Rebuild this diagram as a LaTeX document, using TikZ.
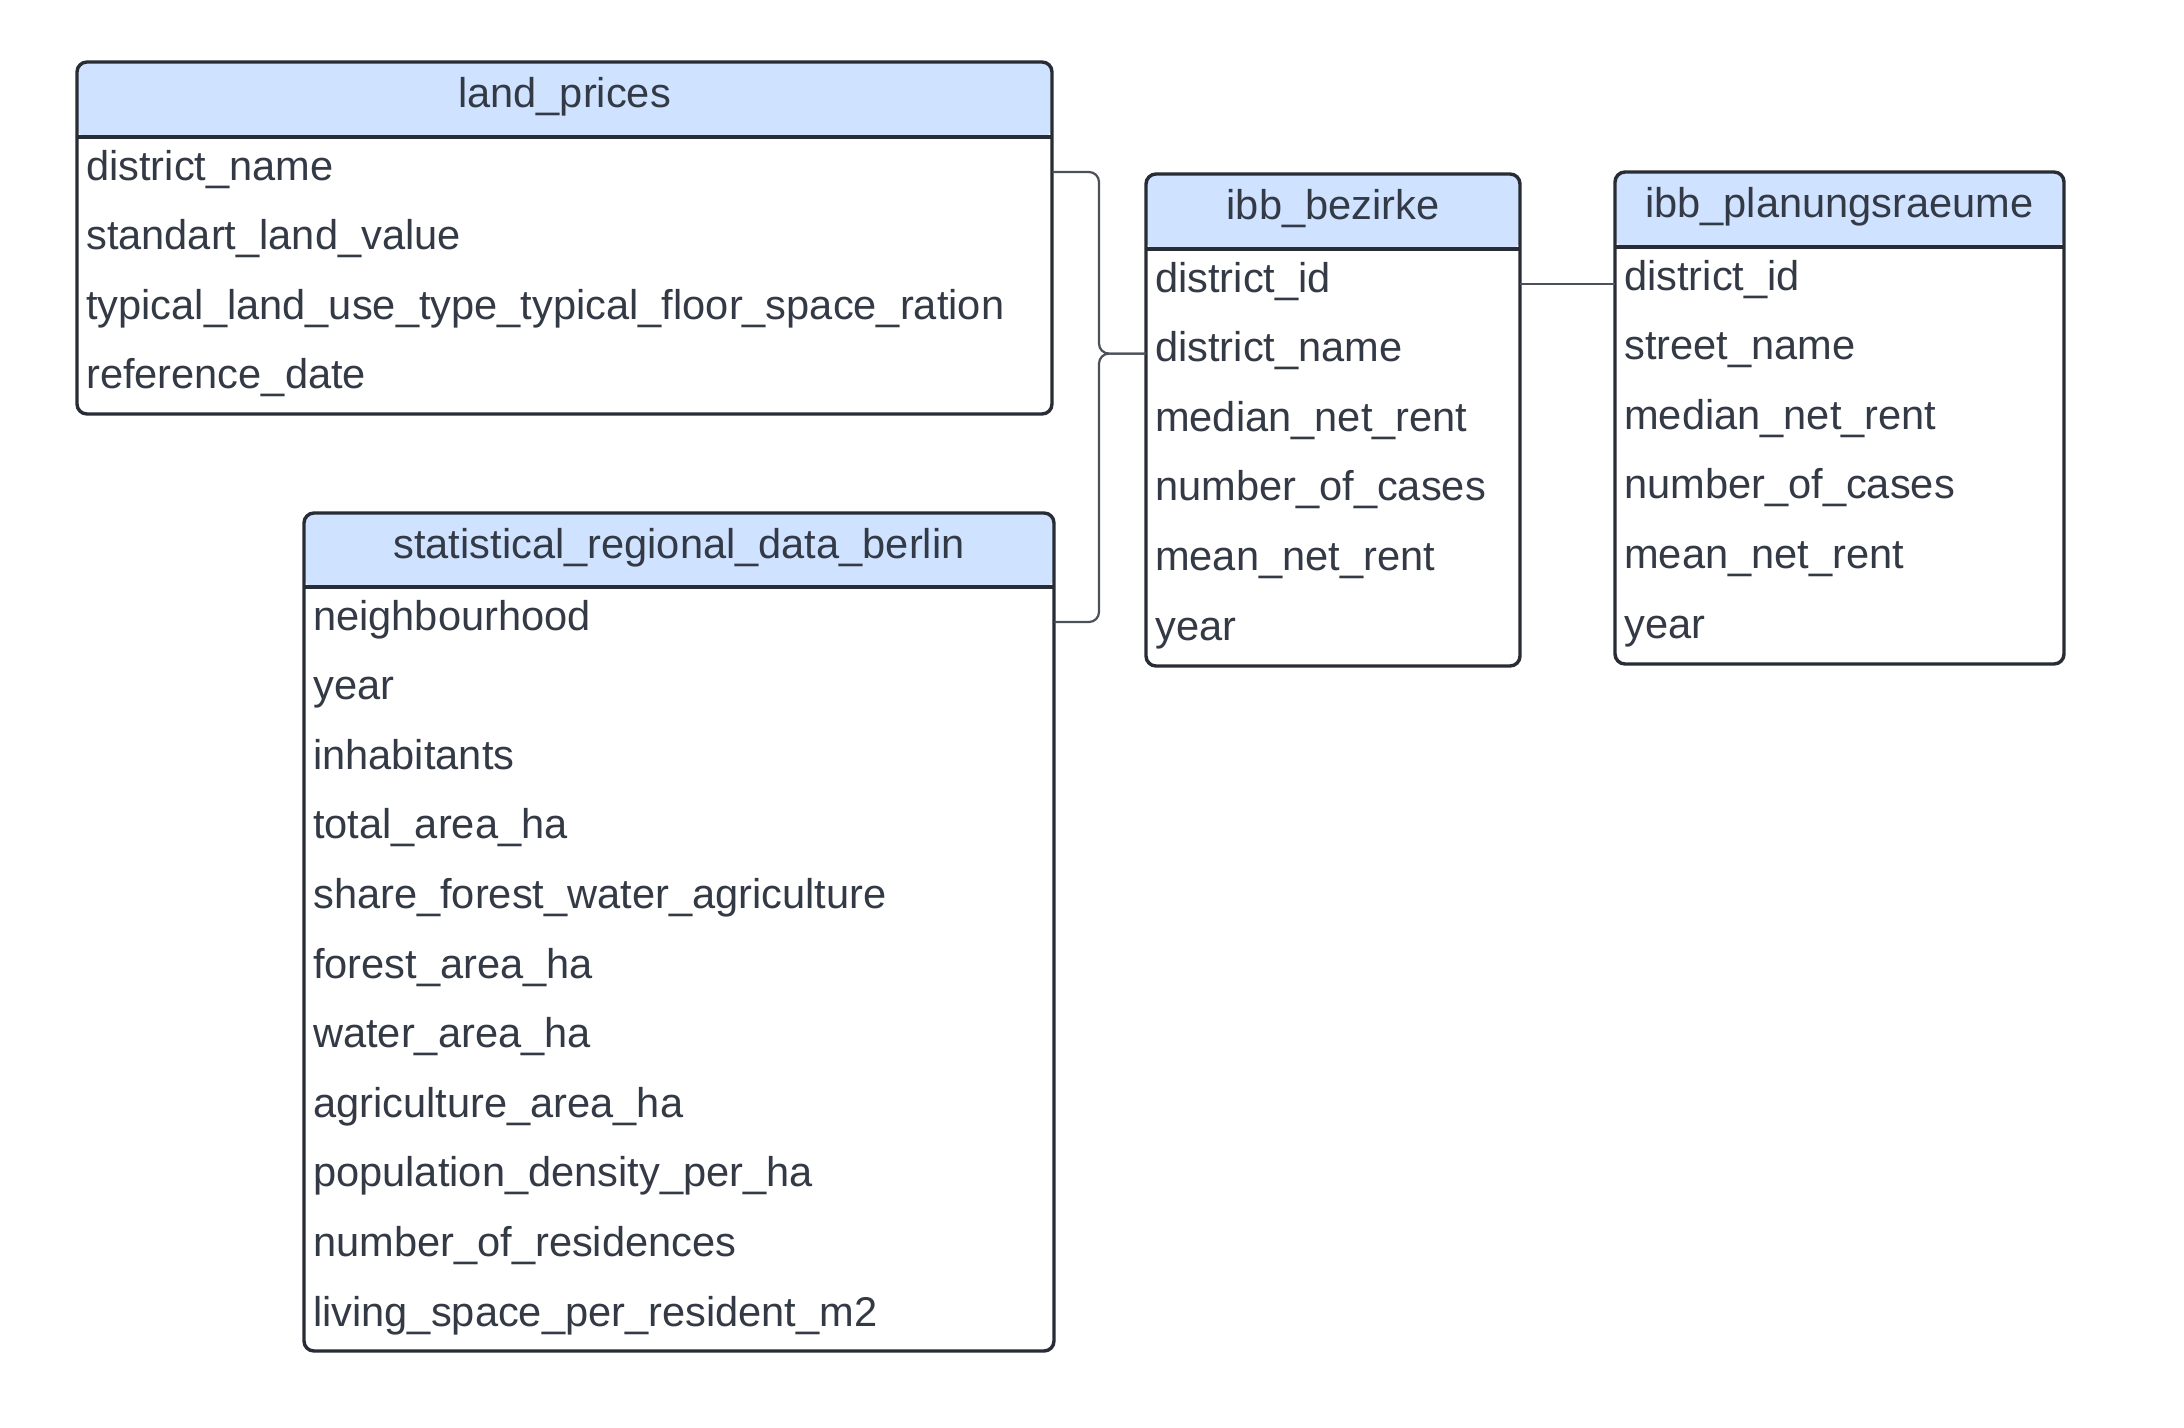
\documentclass[tikz,border=0pt]{standalone}
\usepackage{fontspec}
\setmainfont{Liberation Sans}
\definecolor{hdr}{RGB}{207,226,255}
\definecolor{bord}{RGB}{40,44,52}
\definecolor{txt}{RGB}{51,58,69}
\definecolor{conn}{RGB}{75,80,90}
\tikzset{
 tbl/.style={draw=bord, line width=3.4pt, rounded corners=10pt, inner sep=0pt, outer sep=0pt, anchor=north west},
 hdrtext/.style={text=txt, font=\fontsize{41.6}{50}\selectfont, inner sep=0pt, text height=27pt, text depth=11pt},
 rowtext/.style={text=txt, font=\fontsize{41.6}{50}\selectfont, anchor=north west, inner xsep=9pt, inner ysep=0pt, minimum height=69.6pt, text width=#1, align=left, text height=27pt, text depth=11pt},
 link/.style={draw=conn, line width=2.2pt, rounded corners=10pt},
}
\newcommand\ertable[9]{% name, x1, y1, W, H, hh, title, textwidth, rows
 \node[tbl, minimum width=#4pt, minimum height=#5pt, path picture={\fill[hdr] (path picture bounding box.north west) rectangle ([yshift=-#6pt]path picture bounding box.north east);}] (#1) at (#2,#3) {};
 \draw[bord, line width=3.4pt] ([yshift=-#6pt]#1.north west) -- ([yshift=-#6pt]#1.north east);
 \node[hdrtext] (#1h) at ([yshift=-#6pt/2]#1.north) {#7};
 \foreach \r [count=\i] in {#9} \node[rowtext=#8] (#1\i) at ([yshift={-#6pt-(\i-1)*69.6pt}]#1.north west) {\r};
}
\begin{document}
\begin{tikzpicture}[x=1pt,y=-1pt]
\useasboundingbox[fill=white] (0,0) rectangle (2184,1427);
\ertable{lp}{77}{62}{975}{352}{75}{land\_prices}{957pt}{district\_name,standart\_land\_value,typical\_land\_use\_type\_typical\_floor\_space\_ration,reference\_date}
\ertable{st}{304}{513}{750}{838}{74}{statistical\_regional\_data\_berlin}{732pt}{neighbourhood,year,inhabitants,total\_area\_ha,share\_forest\_water\_agriculture,forest\_area\_ha,water\_area\_ha,agriculture\_area\_ha,population\_density\_per\_ha,number\_of\_residences,living\_space\_per\_resident\_m2}
\ertable{bz}{1146}{174}{374}{492}{75}{ibb\_bezirke}{356pt}{district\_id,district\_name,median\_net\_rent,number\_of\_cases,mean\_net\_rent,year}
\ertable{pl}{1615}{172}{449}{492}{75}{ibb\_planungsraeume}{431pt}{district\_id,street\_name,median\_net\_rent,number\_of\_cases,mean\_net\_rent,year}
\coordinate (jx) at (1099,0);
\draw[link] (lp1.east) -| (jx |- bz2.west) -- (bz2.west);
\draw[link] (st1.east) -| (jx |- bz2.west) -- (bz2.west);
\draw[link, rounded corners=0pt] (bz1.east) -- (bz1.east -| pl1.west);
\end{tikzpicture}
\end{document}
